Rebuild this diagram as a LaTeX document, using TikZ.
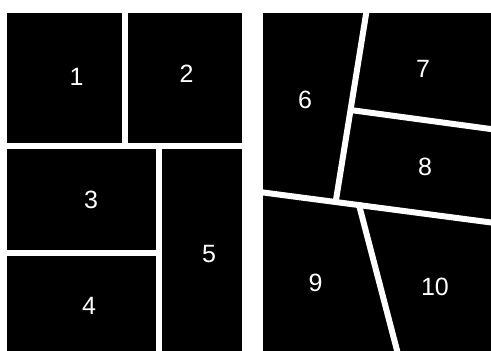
\documentclass[tikz,border=0pt]{standalone}
\usepackage{fontspec}
\setmainfont{Liberation Sans}
\usetikzlibrary{positioning}

\begin{document}
\begin{tikzpicture}[x=1pt, y=-1pt,
    panel/.style={fill=black},
    gap/.style={draw=white, line width=6pt},
    num/.style={text=white, inner sep=0pt, font=\fontsize{25}{25}\selectfont}]

\useasboundingbox[fill=white] (0,0) rectangle (491,351);

% left page
\fill[panel] (7,13) rectangle (242,351);
\draw[gap] (125,10) -- (125,146);
\draw[gap] (4,146) -- (245,146);
\draw[gap] (159,146) -- (159,355);
\draw[gap] (4,253) -- (159,253);

% right page
\fill[panel] (263,13) rectangle (491,351);
\coordinate (a1) at (367.5,5);
\coordinate (a2) at (335.5,203);
\coordinate (b1) at (350.4,110);
\coordinate (b2) at (495,129.6);
\coordinate (c1) at (258,191.8);
\coordinate (c2) at (495,223);
\coordinate (d1) at (358.5,203);
\coordinate (d2) at (399,358);
\draw[gap] (a1) -- (a2);
\draw[gap] (b1) -- (b2);
\draw[gap] (c1) -- (c2);
\draw[gap] (d1) -- (d2);

\node[num] (p1) at (76.5,76.5) {1};
\node[num] (p2) at (186.5,74) {2};
\node[num] (p3) at (91,199.5) {3};
\node[num] (p4) at (89,306) {4};
\node[num] (p5) at (209,254) {5};
\node[num] (p6) at (305,100) {6};
\node[num] (p7) at (423,68.5) {7};
\node[num] (p8) at (425,167) {8};
\node[num] (p9) at (315.5,283) {9};
\node[num] (p10) at (435,287) {10};
\end{tikzpicture}
\end{document}
